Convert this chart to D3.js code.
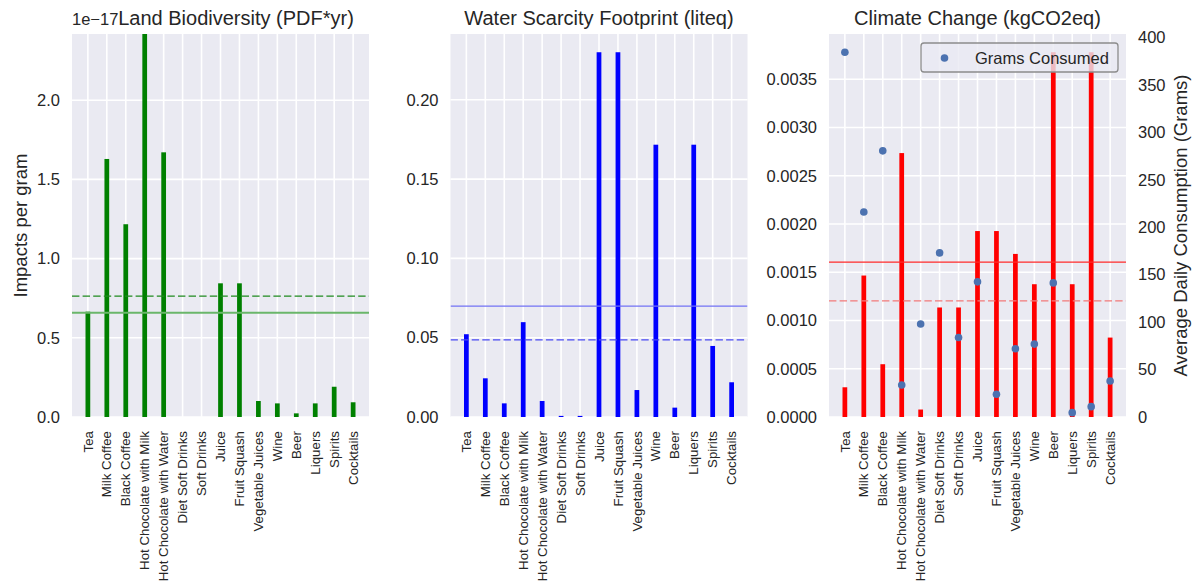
<!DOCTYPE html>
<html>
<head>
<meta charset="utf-8">
<script src="https://cdn.jsdelivr.net/npm/d3@7"></script>
<style>
  html, body { margin: 0; padding: 0; background: #ffffff; }
  svg { display: block; font-family: "Liberation Sans", Arial, sans-serif; }
</style>
</head>
<body>
<svg id="chart" width="1199" height="586"></svg>
<script>
// Drink categories shared by all three panels
const categories = [
  "Tea", "Milk Coffee", "Black Coffee", "Hot Chocolate with Milk",
  "Hot Chocolate with Water", "Diet Soft Drinks", "Soft Drinks", "Juice",
  "Fruit Squash", "Vegetable Juices", "Wine", "Beer", "Liquers", "Spirits", "Cocktails"
];

// Land biodiversity impact per gram, in units of 1e-17 PDF*yr
const landValues = [0.665, 1.629, 1.217, 2.418, 1.671, 0, 0, 0.844, 0.844, 0.101, 0.086, 0.023, 0.086, 0.191, 0.093];

// Water scarcity footprint per gram (liteq)
const waterValues = [0.0522, 0.0244, 0.0086, 0.0598, 0.0101, 0.0007, 0.0007, 0.230, 0.230, 0.017, 0.1717, 0.0059, 0.1717, 0.0448, 0.0219];

// Climate change impact per gram (kgCO2eq)
const climateValues = [0.000308, 0.001466, 0.000547, 0.002735, 0.0000774, 0.001135, 0.001135, 0.001927, 0.001927, 0.00169, 0.001376, 0.00378, 0.001376, 0.00378, 0.000823];

// Average daily consumption (grams)
const gramsConsumed = [384.4, 216, 280.5, 33.8, 98, 173, 83.8, 142.4, 24, 71.9, 76.8, 141.3, 4.6, 10.9, 38];

// Tick values
const landTicks = [0, 0.5, 1.0, 1.5, 2.0];
const waterTicks = [0, 0.05, 0.10, 0.15, 0.20];
const climateTicks = [0, 0.0005, 0.001, 0.0015, 0.002, 0.0025, 0.003, 0.0035];
const gramsTicks = [0, 50, 100, 150, 200, 250, 300, 350, 400];

const svg = d3.select("#chart");
const TEXT = "#262626";
const BG = "#eaeaf2";
const plotTop = 34, plotBottom = 417, plotW = 297;
const barW = 0.25;

const weightedMean = vals => d3.sum(vals, (v, i) => v * gramsConsumed[i]) / d3.sum(gramsConsumed);

function panel(opts) {
  const left = opts.left;
  const g = svg.append("g");
  const n = categories.length - 1 + barW;
  const x = d3.scaleLinear()
    .domain([-barW / 2 - 0.05 * n, categories.length - 1 + barW / 2 + 0.05 * n])
    .range([left, left + plotW]);
  const y = d3.scaleLinear().domain(opts.domain).range([plotBottom, plotTop]);

  const clipId = "clip" + opts.key;
  svg.append("clipPath").attr("id", clipId)
    .append("rect").attr("x", left).attr("y", plotTop).attr("width", plotW).attr("height", plotBottom - plotTop);

  g.append("rect").attr("x", left).attr("y", plotTop).attr("width", plotW).attr("height", plotBottom - plotTop).attr("fill", BG);

  // grid
  g.selectAll(".hgrid").data(opts.ticks).join("line")
    .attr("x1", left).attr("x2", left + plotW)
    .attr("y1", d => y(d)).attr("y2", d => y(d))
    .attr("stroke", "#ffffff").attr("stroke-width", 1.6);
  g.selectAll(".vgrid").data(categories).join("line")
    .attr("x1", (d, i) => x(i)).attr("x2", (d, i) => x(i))
    .attr("y1", plotTop).attr("y2", plotBottom)
    .attr("stroke", "#ffffff").attr("stroke-width", 1.6);

  const plot = g.append("g").attr("clip-path", `url(#${clipId})`);

  // bars
  const bw = x(barW / 2) - x(-barW / 2);
  plot.selectAll("rect.bar").data(opts.values).join("rect")
    .attr("class", "bar")
    .attr("x", (d, i) => x(i) - bw / 2)
    .attr("width", bw)
    .attr("y", d => y(d))
    .attr("height", d => plotBottom - y(d))
    .attr("fill", opts.color);

  // mean line (solid) and consumption-weighted mean line (dashed)
  const mean = d3.mean(opts.values);
  const wmean = weightedMean(opts.values);
  plot.append("line")
    .attr("x1", left).attr("x2", left + plotW)
    .attr("y1", y(mean)).attr("y2", y(mean))
    .attr("stroke", opts.solidColor).attr("stroke-width", opts.solidWidth);
  plot.append("line")
    .attr("x1", left).attr("x2", left + plotW)
    .attr("y1", y(wmean)).attr("y2", y(wmean))
    .attr("stroke", opts.dashColor).attr("stroke-width", 1.4)
    .attr("stroke-dasharray", "7.4,3.2");

  // y tick labels
  g.selectAll(".ytl").data(opts.ticks).join("text")
    .attr("x", left - 12).attr("y", d => y(d)).attr("dy", "0.35em")
    .attr("text-anchor", "end").attr("font-size", 16.5).attr("fill", TEXT)
    .text(opts.fmt);

  // x tick labels
  g.selectAll(".xtl").data(categories).join("text")
    .attr("transform", (d, i) => `translate(${x(i)},431) rotate(-90)`)
    .attr("dy", "0.35em")
    .attr("text-anchor", "end").attr("font-size", 13.3).attr("fill", TEXT)
    .text(d => d);

  // title
  g.append("text")
    .attr("x", opts.titleX).attr("y", 25)
    .attr("text-anchor", "middle").attr("font-size", 20).attr("fill", TEXT)
    .text(opts.title);

  return { g, x, y, plot, left };
}

// Panel 1: land biodiversity
const p1 = panel({
  key: 1, left: 72, domain: [0, d3.max(landValues)], ticks: landTicks,
  values: landValues, color: "#008000",
  solidColor: "#6ab66a", solidWidth: 2, dashColor: "#1f8a1f",
  fmt: d3.format(".1f"), title: "Land Biodiversity (PDF*yr)", titleX: 236
});
p1.g.append("text")
  .attr("x", 72).attr("y", 25).attr("font-size", 16.5).attr("fill", TEXT)
  .text("1e\u221217");
p1.g.append("text")
  .attr("transform", `translate(27,${(plotTop + plotBottom) / 2}) rotate(-90)`)
  .attr("text-anchor", "middle").attr("font-size", 18.5).attr("fill", TEXT)
  .text("Impacts per gram");

// Panel 2: water scarcity
panel({
  key: 2, left: 450.5, domain: [0, d3.max(waterValues) * 1.05], ticks: waterTicks,
  values: waterValues, color: "#0000ff",
  solidColor: "#7272f4", solidWidth: 1.3, dashColor: "#4a4af2",
  fmt: d3.format(".2f"), title: "Water Scarcity Footprint (liteq)", titleX: 450.5 + plotW / 2
});

// Panel 3: climate change, with daily consumption on a twin axis
const p3 = panel({
  key: 3, left: 829, domain: [0, d3.max(climateValues) * 1.05], ticks: climateTicks,
  values: climateValues, color: "#ff0000",
  solidColor: "#ff2a2a", solidWidth: 1.3, dashColor: "#f27a7a",
  fmt: d3.format(".4f"), title: "Climate Change (kgCO2eq)", titleX: 829 + plotW / 2
});

const y2 = d3.scaleLinear().domain([0, d3.max(gramsConsumed) * 1.05]).range([plotBottom, plotTop]);
p3.g.selectAll(".y2tl").data(gramsTicks).join("text")
  .attr("x", 829 + plotW + 12).attr("y", d => y2(d)).attr("dy", "0.35em")
  .attr("text-anchor", "start").attr("font-size", 16.5).attr("fill", TEXT)
  .text(d => d);
p3.g.append("text")
  .attr("transform", `translate(1187,${(plotTop + plotBottom) / 2}) rotate(-90)`)
  .attr("text-anchor", "middle").attr("font-size", 18.5).attr("fill", TEXT)
  .text("Average Daily Consumption (Grams)");

svg.append("g").selectAll("circle").data(gramsConsumed).join("circle")
  .attr("cx", (d, i) => p3.x(i)).attr("cy", d => y2(d))
  .attr("r", 3.8).attr("fill", "#4c72b0");

// legend
const lg = svg.append("g");
lg.append("rect")
  .attr("x", 921).attr("y", 43).attr("width", 197).attr("height", 29)
  .attr("rx", 3).attr("fill", BG).attr("fill-opacity", 0.8)
  .attr("stroke", "#8c8c8c").attr("stroke-width", 1.3);
lg.append("circle").attr("cx", 944.5).attr("cy", 58).attr("r", 3.8).attr("fill", "#4c72b0");
lg.append("text").attr("x", 975).attr("y", 58).attr("dy", "0.35em")
  .attr("font-size", 16.5).attr("fill", TEXT).text("Grams Consumed");
</script>
</body>
</html>
